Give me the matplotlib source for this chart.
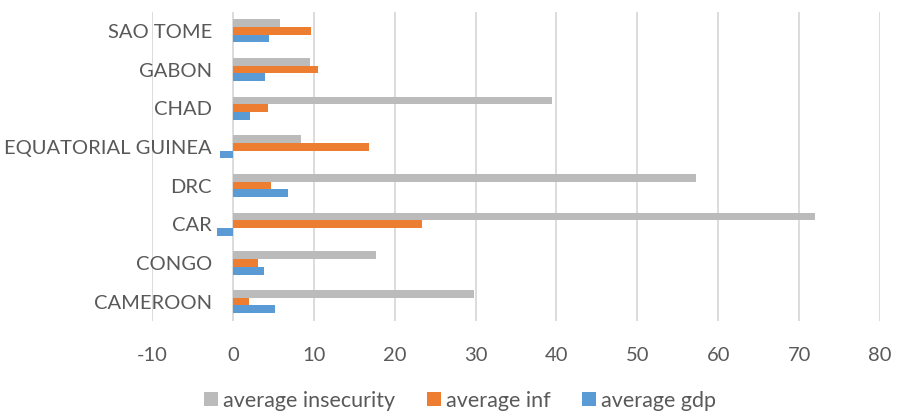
import numpy as np
import matplotlib.pyplot as plt

# countries, bottom to top as drawn
countries = ["CAMEROON", "CONGO", "CAR", "DRC", "EQUATORIAL GUINEA", "CHAD", "GABON", "SAO TOME"]
insecurity = [29.8, 17.7, 72.0, 57.3, 8.4, 39.5, 9.5, 5.8]
inflation = [2.0, 3.1, 23.4, 4.7, 16.8, 4.3, 10.5, 9.6]
gdp = [5.2, 3.8, -2.0, 6.8, -1.6, 2.1, 4.0, 4.4]

plt.rcParams['font.family'] = ['Lato', 'DejaVu Sans']
plt.rcParams['axes.unicode_minus'] = False
txt = '#595959'

fig = plt.figure(figsize=(8.97, 4.13), dpi=100)
ax = fig.add_axes([0.1695, 0.223, 0.8115, 0.749])

y = np.arange(len(countries))
h = 0.2
ax.barh(y + h, insecurity, height=h, color='#BBBBBB', label='average insecurity', zorder=3)
ax.barh(y, inflation, height=h, color='#ED7D31', label='average inf', zorder=3)
ax.barh(y - h, gdp, height=h, color='#5B9BD5', label='average gdp', zorder=3)

ax.set_xlim(-10, 80)
ax.set_ylim(-0.5, len(countries) - 0.5)
ax.set_xticks(np.arange(-10, 81, 10))
ax.set_yticks([])
ax.tick_params(axis='x', length=0, labelsize=14.5, labelcolor=txt, pad=19)
# category labels sit next to the zero line, as in Excel
for yi, name in zip(y, countries):
    ax.text(-2.6, yi - 0.04, name, ha='right', va='center', fontsize=14.5, color=txt)
ax.grid(axis='x', color='#D9D9D9', linewidth=1.3, zorder=0)
for s in ax.spines.values():
    s.set_visible(False)

handles, labels = ax.get_legend_handles_labels()
fig.legend(handles, labels, loc='center', bbox_to_anchor=(0.513, 0.03), ncol=3,
           frameon=False, fontsize=15.5, labelcolor=txt, handlelength=0.65, handleheight=0.65,
           handletextpad=0.25, columnspacing=1.45)

fig.savefig('out.png', dpi=100)
